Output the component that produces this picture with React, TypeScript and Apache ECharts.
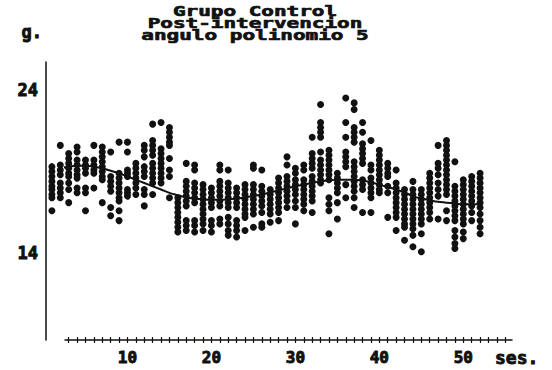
import React, { useEffect, useRef } from 'react';
import * as echarts from 'echarts';

const titleLines = ['Grupo Control', 'Post-intervencion', 'angulo polinomio 5'];
const yUnit = 'g.';
const xUnit = 'ses.';
const xTickLabels = [10, 20, 30, 40, 50];
const yTickLabels = [14, 24];
const xTickMarks = [3, 4, 5, 6, 7, 8, 9, 10, 11, 12, 13, 14, 15, 16, 17, 18, 19, 20, 21, 22, 23, 24, 25, 26, 27, 28, 29, 30, 31, 32, 33, 34, 35, 36, 37, 38, 39, 40, 41, 42, 43, 44, 45, 46, 47, 48, 49, 50, 51, 52, 53, 54, 55];

const sessions = [1, 2, 3, 4, 5, 6, 7, 8, 9, 10, 11, 12, 13, 14, 15, 16, 17, 18, 19, 20, 21, 22, 23, 24, 25, 26, 27, 28, 29, 30, 31, 32, 33, 34, 35, 36, 37, 38, 39, 40, 41, 42, 43, 44, 45, 46, 47, 48, 49, 50, 51, 52];

// observed values (g.) per session
const dotValues: number[][] = [
  [19.3, 19.0, 18.7, 18.4, 18.1, 17.9, 17.6, 17.4, 16.6],
  [20.6, 19.4, 19.1, 18.8, 18.3, 18.0, 17.7, 17.4],
  [20.1, 19.8, 19.5, 19.2, 18.9, 18.7, 18.3, 17.9, 17.1],
  [20.5, 20.2, 19.7, 19.4, 19.1, 18.8, 18.6, 18.0, 17.7],
  [19.7, 19.4, 19.2, 18.9, 18.0, 17.7, 16.6],
  [20.6, 19.7, 19.4, 19.1, 18.9, 18.0],
  [20.5, 20.2, 19.9, 19.6, 19.3, 19.0, 18.7, 18.5, 17.1],
  [20.2, 18.7, 18.4, 18.1, 17.8, 16.8, 16.3],
  [20.8, 18.9, 18.6, 18.3, 18.0, 17.7, 17.4, 17.2, 16.6, 16.0],
  [20.8, 20.2, 19.1, 18.9, 18.7, 17.9, 17.7, 17.5],
  [19.5, 19.2, 18.9, 18.6, 18.3, 18.0, 17.6],
  [20.6, 20.3, 19.9, 19.3, 19.0, 18.7, 17.9, 17.6, 16.9],
  [21.9, 20.9, 20.6, 20.3, 20.0, 19.5, 19.2, 18.9, 18.6, 18.3, 17.6],
  [22.0, 20.4, 20.1, 19.8, 19.5, 19.2, 18.9, 18.6, 18.3],
  [21.7, 21.4, 21.1, 20.8, 20.6, 19.8, 19.1, 18.7, 17.4],
  [17.4, 17.1, 16.8, 16.5, 16.2, 15.9, 15.6, 15.3],
  [19.5, 18.4, 18.1, 17.8, 17.5, 17.2, 16.9, 16.0, 15.7, 15.4],
  [19.4, 19.1, 18.3, 18.0, 17.7, 17.4, 17.1, 16.0, 15.7, 15.3],
  [18.2, 17.9, 17.6, 17.3, 17.0, 16.7, 16.4, 16.1, 15.8, 15.4],
  [18.0, 17.7, 17.4, 17.1, 16.8, 16.0, 15.7, 15.3],
  [19.4, 19.1, 18.4, 18.1, 17.8, 17.5, 17.2, 16.9, 16.1, 15.8],
  [19.1, 18.3, 18.0, 17.7, 17.4, 17.1, 16.8, 16.2, 15.8, 15.4, 15.1],
  [18.0, 17.7, 17.4, 17.1, 16.8, 16.0, 15.7, 15.4, 15.0],
  [18.2, 17.9, 17.6, 17.3, 17.0, 16.7, 16.4, 16.2, 15.4],
  [19.4, 19.2, 18.2, 17.9, 17.6, 17.3, 17.0, 16.7, 16.4, 15.6],
  [19.1, 18.1, 17.8, 17.5, 17.2, 16.9, 16.5, 15.8, 15.6],
  [17.9, 17.6, 17.3, 17.0, 16.7, 16.4, 15.9],
  [18.6, 18.3, 18.0, 17.7, 17.4, 17.1, 16.8, 16.5, 16.0],
  [19.9, 19.4, 18.7, 18.4, 18.1, 17.8, 17.5, 17.2, 16.8],
  [19.2, 18.9, 18.5, 18.2, 17.9, 17.6, 17.2, 16.8, 15.8],
  [19.4, 19.1, 18.5, 18.2, 17.9, 17.6, 17.3, 17.0, 16.6],
  [21.1, 20.1, 19.8, 19.5, 19.2, 18.7, 18.4, 18.1, 17.8, 17.5, 17.2, 16.5],
  [23.1, 22.0, 21.7, 21.4, 21.1, 20.2, 19.7, 19.4, 19.1, 18.8, 18.5, 18.3],
  [20.3, 20.0, 19.7, 19.4, 19.1, 18.8, 18.5, 17.4, 17.0, 16.6, 15.2],
  [18.9, 18.6, 18.3, 18.0, 17.7, 17.1, 16.1],
  [23.5, 22.0, 21.1, 20.2, 19.9, 19.6, 19.3, 18.2, 17.4],
  [23.2, 22.8, 21.7, 21.4, 21.1, 20.8, 19.6, 19.3, 19.0, 18.7, 18.4, 18.1, 17.8, 17.4, 16.8],
  [22.0, 21.4, 20.7, 20.4, 20.1, 19.8, 19.5, 18.5, 18.2, 17.9, 16.5],
  [20.9, 19.4, 19.1, 18.6, 18.3, 18.0, 17.7, 17.4, 16.5],
  [20.3, 20.0, 19.7, 19.4, 19.1, 18.8, 18.5, 18.2, 17.9, 17.7],
  [19.5, 19.2, 18.9, 18.7, 18.1, 17.7, 16.2],
  [19.1, 18.3, 18.0, 17.7, 17.4, 17.1, 16.8, 16.5, 16.2, 15.4],
  [17.9, 17.6, 17.3, 17.0, 16.7, 16.4, 16.1, 15.8, 15.6, 14.8],
  [18.4, 17.9, 17.6, 17.3, 17.0, 16.7, 16.4, 16.1, 15.8, 15.5, 15.1, 14.4],
  [17.9, 17.6, 17.3, 17.0, 16.7, 16.4, 16.1, 15.8, 15.2, 14.1],
  [18.9, 18.6, 18.3, 18.0, 17.7, 17.4, 17.1, 16.8, 16.5, 16.1],
  [20.6, 19.5, 19.2, 18.8, 18.3, 17.9, 17.5, 16.1],
  [20.9, 20.6, 20.3, 20.0, 19.7, 19.4, 19.1, 18.8, 18.5, 18.2, 17.9, 17.6, 16.6, 16.0],
  [19.6, 18.1, 17.8, 17.5, 17.2, 16.9, 16.6, 16.3, 16.0, 15.4, 15.0, 14.6, 14.3],
  [18.5, 18.2, 17.9, 17.6, 17.3, 17.0, 16.7, 16.4, 16.1, 15.8, 15.3, 14.9],
  [18.7, 18.4, 18.1, 17.8, 17.5, 17.2, 16.9, 16.5, 16.0],
  [18.9, 18.6, 18.3, 18.0, 17.7, 17.4, 17.1, 16.8, 16.4, 16.0, 15.6, 15.2],
];

// 5th-degree polynomial fit
const fitValues = [19.0, 19.2, 19.3, 19.35, 19.35, 19.3, 19.2, 19.05, 18.9, 18.7, 18.5, 18.3, 18.1, 17.9, 17.7, 17.55, 17.42, 17.35, 17.3, 17.28, 17.28, 17.3, 17.35, 17.42, 17.5, 17.6, 17.72, 17.85, 17.98, 18.1, 18.2, 18.3, 18.4, 18.45, 18.5, 18.5, 18.5, 18.45, 18.35, 18.2, 18.05, 17.9, 17.72, 17.5, 17.35, 17.25, 17.15, 17.1, 17.05, 17.0, 17.0, 17.0];

const FONT = '"DejaVu Sans Mono", monospace';
const INK = '#111';
const heavy = { textBorderColor: INK, textBorderWidth: 0.9 };

export default function App() {
  const ref = useRef<HTMLDivElement>(null);
  useEffect(() => {
    if (!ref.current) return;
    const chart = echarts.init(ref.current, undefined, { renderer: 'svg' });
    const dots: number[][] = [];
    dotValues.forEach((vals, i) => vals.forEach((v) => dots.push([sessions[i], v])));
    const fit = sessions.map((s, i) => [s, fitValues[i]]);
    const xMin = 2.56;
    const xMax = 55.8;
    chart.setOption({
      animation: false,
      backgroundColor: '#ffffff',
      grid: { left: 65, right: 40, top: 62, bottom: 30 },
      graphic: titleLines.map((t, i) => ({
        type: 'text',
        x: 255,
        y: 11 + i * 12,
        scaleY: 0.68,
        style: {
          text: t,
          font: `bold 21px ${FONT}`,
          fill: INK,
          stroke: INK,
          lineWidth: 1,
          textAlign: 'center',
          textVerticalAlign: 'middle',
        },
      })),
      xAxis: [
        {
          type: 'value',
          min: xMin,
          max: xMax,
          name: xUnit,
          nameLocation: 'end',
          nameGap: -17,
          nameTextStyle: {
            fontFamily: FONT,
            fontWeight: 'bold',
            fontSize: 18,
            color: INK,
            verticalAlign: 'top',
            align: 'left',
            padding: [8, 0, 0, 0],
            ...heavy,
          },
          splitLine: { show: false },
          axisLine: { show: true, lineStyle: { color: INK, width: 1.5 } },
          axisTick: { show: true, length: 3, customValues: xTickMarks, lineStyle: { color: INK, width: 1.2 } },
          axisLabel: {
            customValues: xTickLabels,
            fontFamily: FONT,
            fontWeight: 'bold',
            fontSize: 16,
            color: INK,
            margin: 9,
            ...heavy,
          },
        },
        {
          type: 'value',
          min: xMin,
          max: xMax,
          position: 'bottom',
          splitLine: { show: false },
          axisLine: { show: false },
          axisTick: { show: true, inside: true, length: 3, customValues: xTickMarks, lineStyle: { color: INK, width: 1.2 } },
          axisLabel: { show: false },
        },
      ],
      yAxis: {
        type: 'value',
        min: 8.7,
        max: 25.7,
        offset: 19,
        name: yUnit,
        nameLocation: 'end',
        nameGap: 30,
        nameTextStyle: {
          fontFamily: FONT,
          fontWeight: 'bold',
          fontSize: 17,
          color: INK,
          align: 'right',
          verticalAlign: 'middle',
          padding: [0, 4, 0, 0],
          ...heavy,
        },
        splitLine: { show: false },
        axisLine: { show: true, lineStyle: { color: INK, width: 1.5 } },
        axisTick: { show: false },
        axisLabel: {
          customValues: yTickLabels,
          fontFamily: FONT,
          fontWeight: 'bold',
          fontSize: 17,
          color: INK,
          margin: 8,
          ...heavy,
        },
      },
      series: [
        {
          type: 'scatter',
          data: dots,
          symbol: 'circle',
          symbolSize: 7,
          clip: false,
          itemStyle: { color: INK, opacity: 1 },
        },
        {
          type: 'line',
          data: fit,
          smooth: true,
          symbol: 'none',
          clip: false,
          lineStyle: { color: INK, width: 2 },
          z: 3,
        },
      ],
    });
    return () => chart.dispose();
  }, []);
  return <div ref={ref} style={{ position: 'fixed', left: 0, top: 0, width: 552, height: 370 }} />;
}
